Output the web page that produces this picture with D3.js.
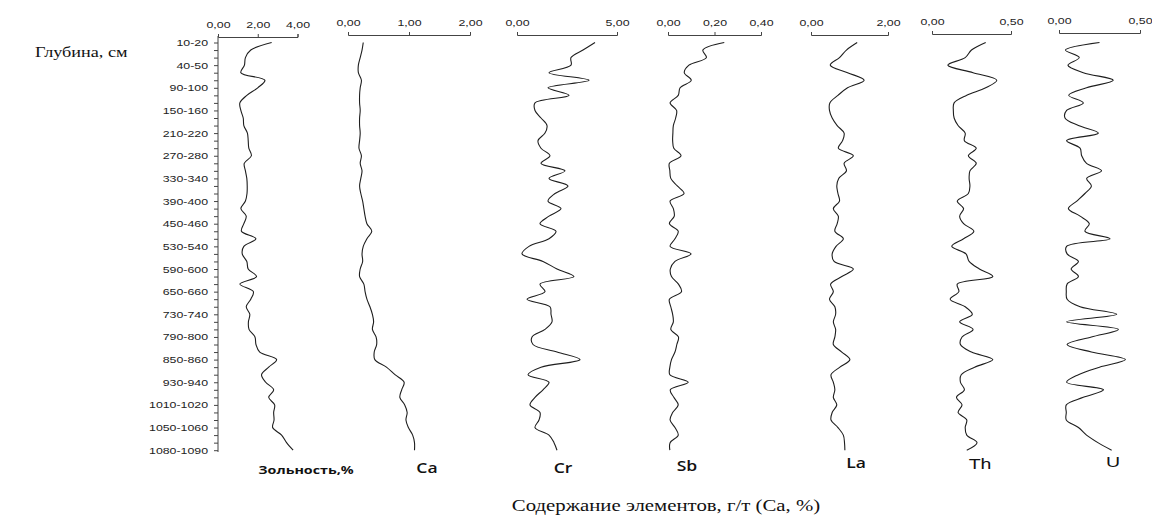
<!DOCTYPE html>
<html><head><meta charset="utf-8">
<script src="https://cdn.jsdelivr.net/npm/d3@7"></script>
<style>body{margin:0;background:#fff}svg{display:block}</style>
</head><body>
<svg id="chart" width="1152" height="518"></svg>
<script>
// ---------------- DATA ----------------
const depthLabels = ["10-20","40-50","90-100","150-160","210-220","270-280","330-340","390-400",
  "450-460","530-540","590-600","650-660","730-740","790-800","850-860","930-940",
  "1010-1020","1050-1060","1080-1090"];
const sampleCount = 55; // one tick per sample, a label on every third

const ashValues = [2.70,1.65,1.38,1.33,1.15,2.36,2.00,1.45,1.10,1.15,1.27,1.30,1.48,1.52,1.55,1.68,1.32,1.38,1.45,1.47,
  1.46,1.38,1.15,1.42,1.30,1.18,1.91,1.30,1.22,1.45,1.52,1.94,1.10,1.78,1.65,1.42,1.60,1.53,1.56,1.86,
  1.91,2.10,2.95,2.55,2.19,2.40,2.80,2.55,2.85,2.80,2.82,2.75,3.20,3.45,3.78];
const caValues = [0.25,0.23,0.20,0.17,0.17,0.22,0.20,0.19,0.19,0.20,0.19,0.19,0.20,0.19,0.18,0.22,0.20,0.23,0.21,0.19,
  0.21,0.24,0.26,0.28,0.31,0.39,0.31,0.25,0.23,0.24,0.20,0.19,0.26,0.28,0.31,0.36,0.40,0.42,0.40,0.46,
  0.47,0.43,0.44,0.63,0.77,0.92,0.88,0.85,0.93,0.97,0.95,0.99,1.06,1.09,1.09];
const crValues = [3.9,3.3,2.7,2.7,1.6,3.6,1.55,2.6,0.9,0.9,1.2,1.5,1.4,1.05,1.2,1.65,1.2,2.4,1.6,2.55,
  1.9,1.55,2.2,1.6,1.15,1.95,1.6,0.6,0.25,1.3,2.0,2.85,1.15,1.4,0.5,1.65,1.7,1.75,1.4,0.75,
  0.8,2.0,3.15,1.2,0.55,1.6,1.3,0.9,0.65,1.15,1.1,0.9,1.6,1.85,2.0];
const sbValues = [0.242,0.15,0.165,0.09,0.07,0.10,0.052,0.044,0.009,0.037,0.033,0.023,0.021,0.02,0.025,0.056,0.006,0.008,0.012,0.04,
  0.069,0.009,0.023,0.027,0.006,0.044,0.03,0.009,0.099,0.03,0.01,0.015,0.045,0.058,0.006,0.012,0.02,0.023,0.012,0.045,
  0.038,0.03,0.015,0.008,0.008,0.087,0.01,0.025,0.044,0.02,0.009,0.03,0.044,0.009,0.008];
const laValues = [1.20,0.92,0.74,0.50,0.95,1.38,0.95,0.70,0.49,0.48,0.55,0.68,0.86,0.82,0.71,1.10,0.86,0.92,0.72,0.67,
  0.70,0.74,0.58,0.71,0.68,0.62,0.84,0.65,0.55,0.60,1.10,0.80,0.51,0.58,0.48,0.62,0.64,0.58,0.64,0.62,
  0.58,0.80,1.01,0.75,0.52,0.58,0.62,0.58,0.67,0.55,0.52,0.70,0.84,0.87,0.88];
const thValues = [0.34,0.25,0.21,0.10,0.26,0.41,0.34,0.22,0.14,0.135,0.14,0.165,0.21,0.205,0.28,0.23,0.28,0.24,0.235,0.24,
  0.23,0.16,0.20,0.175,0.20,0.265,0.20,0.125,0.215,0.235,0.30,0.385,0.16,0.17,0.115,0.21,0.255,0.175,0.26,0.19,
  0.18,0.25,0.385,0.27,0.185,0.18,0.205,0.155,0.19,0.165,0.22,0.21,0.22,0.285,0.22];
const uValues = [0.25,0.04,0.125,0.055,0.15,0.335,0.17,0.06,0.15,0.047,0.037,0.12,0.243,0.047,0.13,0.14,0.17,0.263,0.171,0.2,
  0.16,0.11,0.058,0.13,0.187,0.16,0.315,0.047,0.05,0.12,0.075,0.12,0.05,0.045,0.05,0.13,0.356,0.047,0.366,0.2,
  0.05,0.2,0.41,0.25,0.12,0.047,0.275,0.15,0.045,0.045,0.045,0.12,0.17,0.24,0.325];

const seriesNames = ["Зольность,%","Ca","Cr","Sb","La","Th","U"];
const seriesValues = [ashValues, caValues, crValues, sbValues, laValues, thValues, uValues];
const seriesDomains = [[0,4],[0,2],[0,5],[0,0.4],[0,2],[0,0.5],[0,0.5]];
const seriesTicks = [[0,2,4],[0,1,2],[0,5],[0,0.2,0.4],[0,2],[0,0.5],[0,0.5]];
const yTitle = "Глубина, см";
const xTitle = "Содержание элементов, г/т (Ca, %)";

// ---------------- LAYOUT ----------------
const SX = 1.3; // horizontal stretch of the original artwork's text
const layout = {
  yTop: 42.5, yBottom: 450.2, axisX: 218, axisLineTop: 36, axisLineBottom: 452,
  panelX: [[218,297.5],[348,470],[517,617],[668,761],[811,888],[932,1011],[1059,1140]],
  panelAxisY: [37,35,35,35,35,34,33],
  nameX: [306,427,563,687,856,980,1113],
  nameY: [474,473,473,471,468,469,467],
  nameFont: [["Open Sans",700,11],["Open Sans",600,13.5],["Open Sans",600,13.5],["Open Sans",600,13.5],
             ["Open Sans",600,13.5],["Liberation Sans",400,15],["Liberation Sans",400,15]]
};

const svg = d3.select("#chart");
svg.append("rect").attr("width",1152).attr("height",518).attr("fill","#fff");

const y = d3.scaleLinear().domain([0, sampleCount - 1]).range([layout.yTop, layout.yBottom]);
const fmt = v => v.toFixed(2).replace(".", ",");

// y axis
const yAxis = d3.axisLeft(y)
  .tickValues(d3.range(sampleCount))
  .tickSize(4).tickSizeOuter(0).tickPadding(3.7)
  .tickFormat(i => i % 3 === 0 ? depthLabels[i / 3] : "");
const gy = svg.append("g").attr("transform", `translate(${layout.axisX},0)`).call(yAxis);
gy.select(".domain").remove();
gy.selectAll("line").attr("stroke","#444");
gy.selectAll("text").attr("font-family","Liberation Sans, Arial, sans-serif")
  .attr("font-size",9.5).attr("fill","#222").attr("transform",`scale(${SX},1)`);
svg.append("line").attr("x1",layout.axisX).attr("x2",layout.axisX)
  .attr("y1",layout.axisLineTop).attr("y2",layout.axisLineBottom)
  .attr("stroke","#444").attr("stroke-width",1);

// panels
seriesValues.forEach((vals, k) => {
  const [x0, x1] = layout.panelX[k];
  const x = d3.scaleLinear().domain(seriesDomains[k]).range([x0, x1]);
  const ay = layout.panelAxisY[k];
  const ax = d3.axisTop(x).tickValues(seriesTicks[k]).tickFormat(fmt)
    .tickSize(3).tickSizeOuter(3).tickPadding(6);
  const g = svg.append("g").attr("transform",`translate(0,${ay})`).call(ax);
  g.select(".domain").attr("stroke","#444");
  g.selectAll("line").attr("stroke","#444");
  g.selectAll("text").attr("font-family","Liberation Sans, Arial, sans-serif")
    .attr("font-size",9.5).attr("fill","#222").attr("transform",`scale(${SX},1)`);
  const line = d3.line().x(d => x(d)).y((d, i) => y(i)).curve(d3.curveCatmullRom.alpha(0.5));
  svg.append("path").datum(vals).attr("d", line)
    .attr("fill","none").attr("stroke","#1e1e1e").attr("stroke-width",1.1);
  const [ff, fw, fs] = layout.nameFont[k];
  svg.append("text").attr("transform",`translate(${layout.nameX[k]},${layout.nameY[k]}) scale(${SX},1)`)
    .attr("text-anchor","middle").attr("font-family",ff).attr("font-weight",fw)
    .attr("font-size",fs).attr("fill","#111").text(seriesNames[k]);
});

// titles
svg.append("text").attr("transform",`translate(35,57) scale(${SX},1)`)
  .attr("font-family","Liberation Serif, Times New Roman, serif").attr("font-size",14)
  .attr("fill","#111").text(yTitle);
svg.append("text").attr("transform",`translate(666,511) scale(${SX},1)`)
  .attr("text-anchor","middle")
  .attr("font-family","Liberation Serif, Times New Roman, serif").attr("font-size",16)
  .attr("fill","#111").text(xTitle);
</script>
</body></html>
